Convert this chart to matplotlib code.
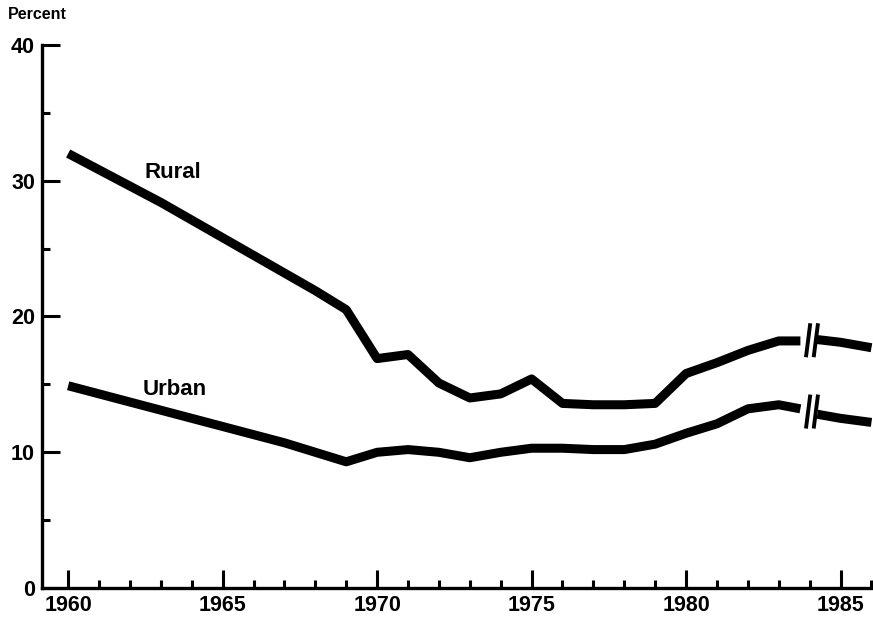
import numpy as np
import matplotlib.pyplot as plt
from matplotlib.ticker import MultipleLocator

# ---------------- data ----------------
years_a = [1960, 1961, 1962, 1963, 1964, 1965, 1966, 1967, 1968, 1969,
           1970, 1971, 1972, 1973, 1974, 1975, 1976, 1977, 1978, 1979,
           1980, 1981, 1982, 1983, 1983.7]
rural_a = [32.0, 30.8, 29.6, 28.4, 27.1, 25.8, 24.5, 23.2, 21.9, 20.5,
           16.9, 17.2, 15.1, 14.0, 14.3, 15.4, 13.6, 13.5, 13.5, 13.6,
           15.8, 16.6, 17.5, 18.2, 18.2]
urban_a = [14.9, 14.3, 13.7, 13.1, 12.5, 11.9, 11.3, 10.7, 10.0, 9.3,
           10.0, 10.2, 10.0, 9.6, 10.0, 10.3, 10.3, 10.2, 10.2, 10.6,
           11.4, 12.1, 13.2, 13.5, 13.2]

years_b = [1984.25, 1985, 1986]
rural_b = [18.3, 18.1, 17.7]
urban_b = [12.8, 12.5, 12.2]

break_x = [1983.95, 1984.2]

# ---------------- plot ----------------
plt.rcParams['font.family'] = ['Liberation Sans', 'DejaVu Sans']
fig = plt.figure(figsize=(8.73, 6.23), dpi=100)
ax = fig.add_axes([0.048, 0.056, 0.952, 0.872])

lw = 6.5
for xs, ys in [(years_a, rural_a), (years_b, rural_b),
               (years_a, urban_a), (years_b, urban_b)]:
    ax.plot(xs, ys, color='black', lw=lw, solid_joinstyle='round',
            solid_capstyle='butt')

# break marks "//"
for y_left, y_right in [(rural_a[-1], rural_b[0]), (urban_a[-1], urban_b[0])]:
    yc = (y_left + y_right) / 2
    for bx in break_x:
        ax.plot([bx - 0.07, bx + 0.07], [yc - 1.25, yc + 1.25], color='black',
                lw=2.8, solid_capstyle='butt')

ax.text(1963.4, 30.6, 'Rural', fontsize=16, fontweight='bold', ha='center', va='center')
ax.text(1963.45, 14.6, 'Urban', fontsize=16, fontweight='bold', ha='center', va='center')
fig.text(0.009, 0.976, 'Percent', fontsize=11.5, fontweight='bold', ha='left', va='center')

ax.set_xlim(1959.15, 1986.05)
ax.set_ylim(0, 40)
ax.spines['top'].set_visible(False)
ax.spines['right'].set_visible(False)
ax.spines['left'].set_linewidth(2.4)
ax.spines['bottom'].set_linewidth(2.4)

ax.xaxis.set_major_locator(MultipleLocator(5))
ax.xaxis.set_minor_locator(MultipleLocator(1))
ax.yaxis.set_major_locator(MultipleLocator(10))
ax.yaxis.set_minor_locator(MultipleLocator(5))
ax.tick_params(which='major', direction='in', length=13, width=2.2, labelsize=15.5, pad=5)
ax.tick_params(which='minor', direction='in', length=6, width=2.2)
ax.tick_params(axis='y', which='major', pad=5)
for lab in ax.get_xticklabels() + ax.get_yticklabels():
    lab.set_fontweight('bold')

fig.savefig('out.png', dpi=100)
